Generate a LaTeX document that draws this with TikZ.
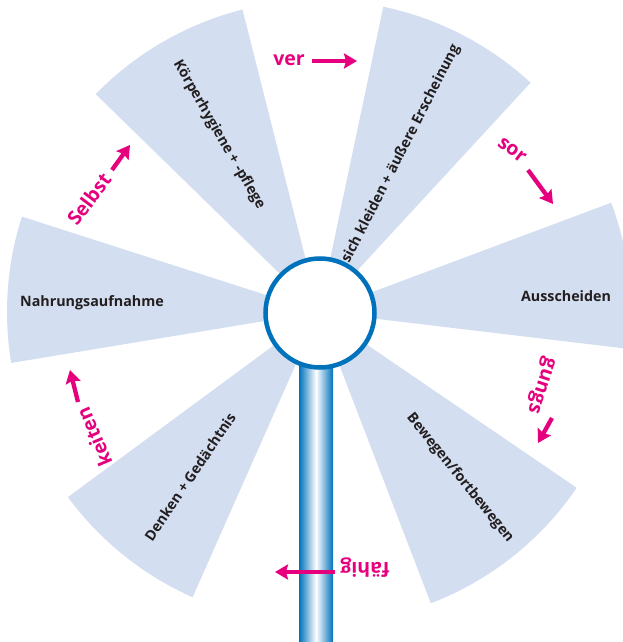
\documentclass[tikz,border=0pt]{standalone}
\usepackage{fontspec}
\setmainfont{Open Sans}
\usetikzlibrary{arrows.meta}
\definecolor{bladecol}{RGB}{211,222,240}
\definecolor{ringblue}{RGB}{0,114,188}
\definecolor{mag}{RGB}{230,0,126}
\definecolor{txt}{RGB}{35,31,32}
\tikzset{
  blade/.style={fill=bladecol},
  bladelabel/.style={font=\bfseries\fontsize{14.3}{16}\selectfont, text=txt, inner sep=0pt},
  word/.style={font=\bfseries\fontsize{19.5}{21}\selectfont, text=mag, inner sep=0pt},
  magarrow/.style={draw=mag, line width=4.3pt, -{Stealth[length=13pt,width=15pt,inset=2pt]}},
}
\newcommand{\bladeat}[2]{\fill[blade] (0,0) -- (#1:312) arc[start angle=#1, end angle=#2, radius=312] -- cycle;}
\begin{document}
\begin{tikzpicture}[x=1pt,y=1pt]
\useasboundingbox (-319,-330) rectangle (304,312);
\begin{scope}
\clip (-319,-330) rectangle (304,312);
\bladeat{104.2}{135.7}
\bladeat{47.3}{78.1}
\bladeat{-6.8}{20.5}
\bladeat{-69}{-34.3}
\bladeat{216.4}{246.1}
\bladeat{162.2}{189.4}
\end{scope}
% pole
\shade[left color=ringblue, right color=ringblue, middle color=white] (-20,-330) rectangle (14,-45);
% hub
\node[circle, draw=ringblue, line width=4.5pt, fill=white, minimum size=109pt, inner sep=0pt] (hub) at (1,-1) {};
% blade labels
\node[bladelabel, rotate=-60] (l1) at (-100,177) {Körperhygiene + -pflege};
\node[bladelabel, rotate=63] (l2) at (82,158) {sich kleiden + äußere Erscheinung};
\node[bladelabel] (l3) at (247,16) {Ausscheiden};
\node[bladelabel, rotate=-51] (l4) at (141,-166) {Bewegen/fortbewegen};
\node[bladelabel, rotate=56] (l5) at (-129,-165) {Denken + Gedächtnis};
\node[bladelabel] (l6) at (-227,9) {Nahrungsaufnahme};
% magenta words
\node[word] (w1) at (-30,252) {ver};
\node[word, rotate=-37] (w2) at (193,162) {sor};
\node[word, rotate=-108] (w3) at (221,-73) {gungs};
\node[word, rotate=180] (w4) at (46,-256) {fähig};
\node[word, rotate=113] (w5) at (-225,-125) {keiten};
\node[word, rotate=53] (w6) at (-230,113) {Selbst};
% arrow ends
\coordinate (a1s) at (-7,251); \coordinate (a1e) at (38,251);
\coordinate (a2s) at (209,142); \coordinate (a2e) at (234,108);
\coordinate (a3s) at (233,-106); \coordinate (a3e) at (219,-131);
\coordinate (a4s) at (16,-260); \coordinate (a4e) at (-44,-260);
\coordinate (a5s) at (-241,-90); \coordinate (a5e) at (-249,-58);
\coordinate (a6s) at (-207,142); \coordinate (a6e) at (-189,167);
\draw[magarrow] (a1s) -- (a1e);
\draw[magarrow] (a2s) -- (a2e);
\draw[magarrow] (a3s) -- (a3e);
\draw[magarrow] (a4s) -- (a4e);
\draw[magarrow] (a5s) -- (a5e);
\draw[magarrow] (a6s) -- (a6e);
\end{tikzpicture}
\end{document}
